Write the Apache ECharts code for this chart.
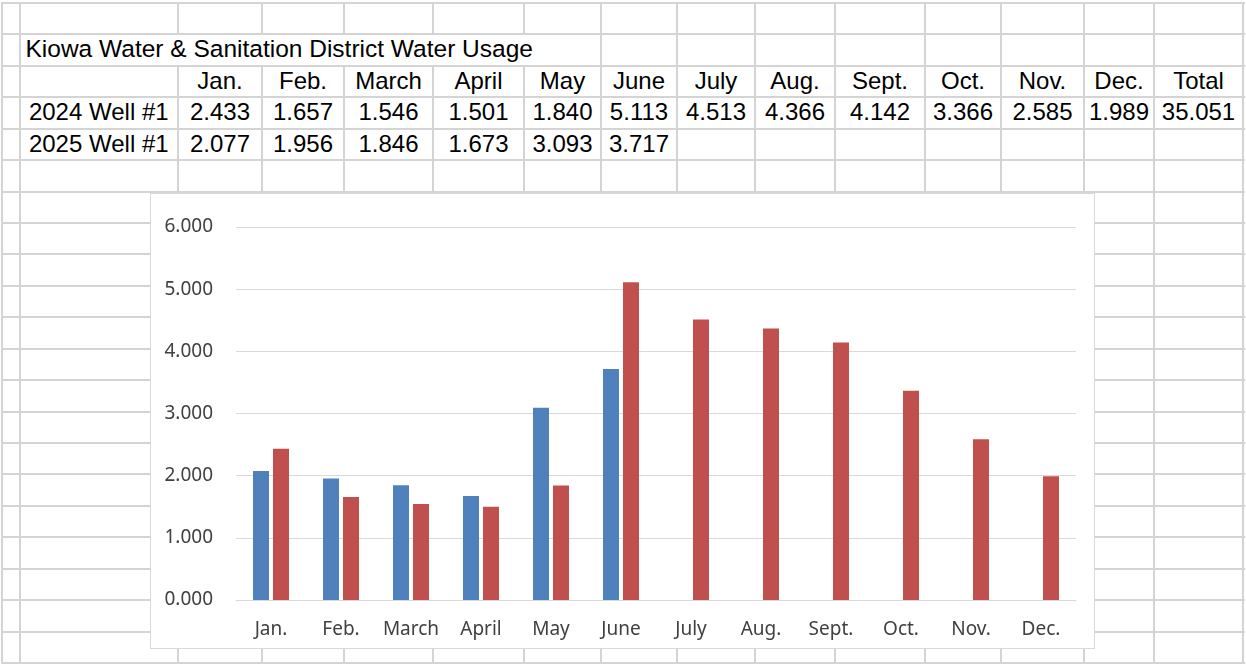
<!DOCTYPE html>
<html><head><meta charset="utf-8">
<script src="https://cdn.jsdelivr.net/npm/echarts@6/dist/echarts.min.js"></script>
<style>
html,body{margin:0;padding:0;background:#fff;width:1246px;height:664px;overflow:hidden;}
#sheet{position:absolute;left:0;top:0;width:1246px;height:664px;}
.hl{position:absolute;height:2px;background:#d4d4d4;}
.vl{position:absolute;width:2px;background:#d4d4d4;}
.cell{position:absolute;font-family:"Liberation Sans",Arial,sans-serif;font-size:24px;color:#000;white-space:nowrap;text-align:center;}
#frame{position:absolute;left:150px;top:193px;width:945px;height:456px;box-sizing:border-box;border:1px solid #d9d9d9;background:#fff;}
#chart{position:absolute;left:150px;top:193px;width:945px;height:456px;}
</style></head><body>
<div id="sheet"></div>
<div id="frame"></div>
<div id="chart"></div>
<script>
// ---- data ----
const title = 'Kiowa Water & Sanitation District Water Usage';
const months = ['Jan.', 'Feb.', 'March', 'April', 'May', 'June', 'July', 'Aug.', 'Sept.', 'Oct.', 'Nov.', 'Dec.'];
const label2024 = '2024 Well #1';
const label2025 = '2025 Well #1';
const totalLabel = 'Total';
const usage2024 = [2.433, 1.657, 1.546, 1.501, 1.840, 5.113, 4.513, 4.366, 4.142, 3.366, 2.585, 1.989];
const usage2025 = [2.077, 1.956, 1.846, 1.673, 3.093, 3.717, null, null, null, null, null, null];
const yTicks = [0, 1, 2, 3, 4, 5, 6];

// ---- spreadsheet layout ----
const colX = [2, 19.5, 178, 262, 344, 433, 524, 601, 677, 755, 835, 925, 1001, 1084, 1154, 1243];
const rowY = [];
for (let i = 0; i <= 21; i++) rowY.push(3 + i * 31.43);
const sheet = document.getElementById('sheet');
function addDiv(cls, style, text) {
  const d = document.createElement('div');
  d.className = cls;
  Object.assign(d.style, style);
  if (text !== undefined) d.textContent = text;
  sheet.appendChild(d);
  return d;
}
rowY.forEach(y => addDiv('hl', {left: '2px', top: (y - 1) + 'px', width: '1243px'}));
colX.forEach((x, ci) => {
  for (let r = 0; r < rowY.length - 1; r++) {
    if (r === 1 && ci >= 2 && ci <= 6) continue; // title row spans
    const y0 = rowY[r], y1 = rowY[r + 1];
    addDiv('vl', {left: (x - 1) + 'px', top: (y0 - 1) + 'px', height: (y1 - y0 + 2) + 'px'});
  }
});
const textShift = -1;
function cell(ci, r, text, align) {
  const x0 = colX[ci], x1 = colX[ci + 1];
  const y0 = rowY[r], y1 = rowY[r + 1];
  const st = {left: x0 + 'px', top: (y0 + textShift) + 'px', width: (x1 - x0) + 'px', height: (y1 - y0) + 'px', lineHeight: (y1 - y0) + 'px'};
  if (align === 'left') { st.textAlign = 'left'; st.width = 'auto'; st.left = (x0 + 6) + 'px'; st.fontSize = '24.5px'; }
  addDiv('cell', st, text);
}
cell(1, 1, title, 'left');
months.forEach((m, j) => cell(2 + j, 2, m));
cell(14, 2, totalLabel);
cell(1, 3, label2024);
usage2024.forEach((v, j) => { if (v != null) cell(2 + j, 3, v.toFixed(3)); });
cell(14, 3, usage2024.reduce((a, b) => a + b, 0).toFixed(3));
cell(1, 4, label2025);
usage2025.forEach((v, j) => { if (v != null) cell(2 + j, 4, v.toFixed(3)); });

// ---- chart ----
const chart = echarts.init(document.getElementById('chart'), null, {renderer: 'canvas'});
const labelFont = {color: '#404040', fontSize: 19, fontFamily: '"Noto Sans", sans-serif'};
chart.setOption({
  animation: false,
  backgroundColor: 'transparent',
  grid: {left: 86, right: 19, top: 34, bottom: 49},
  xAxis: {
    type: 'category', data: months,
    axisLine: {show: true, lineStyle: {color: '#d9d9d9', width: 1}},
    axisTick: {show: false},
    axisLabel: Object.assign({margin: 20, interval: 0}, labelFont)
  },
  yAxis: {
    type: 'value', min: yTicks[0], max: yTicks[yTicks.length - 1], interval: 1,
    axisLine: {show: false}, axisTick: {show: false},
    splitLine: {lineStyle: {color: '#d9d9d9', width: 1}},
    axisLabel: Object.assign({margin: 23, formatter: v => v.toFixed(3)}, labelFont)
  },
  series: [
    {name: label2025, type: 'bar', data: usage2025, barWidth: 16, barGap: '25%', itemStyle: {color: '#4f81bd'}},
    {name: label2024, type: 'bar', data: usage2024, barWidth: 16, barGap: '25%', itemStyle: {color: '#c0504d'}}
  ]
});
</script>
</body></html>
